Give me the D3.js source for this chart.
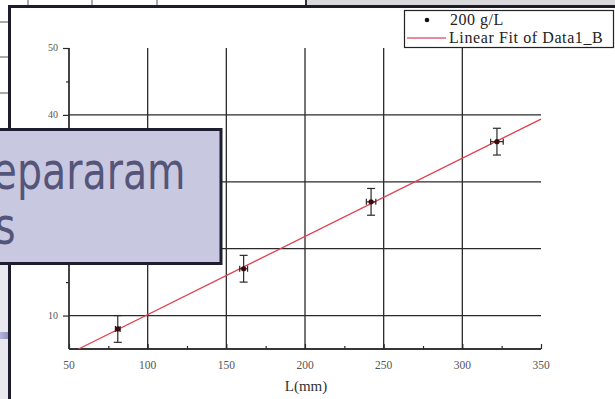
<!DOCTYPE html>
<html>
<head>
<meta charset="utf-8">
<script src="https://cdn.jsdelivr.net/npm/d3@7/dist/d3.min.js"></script>
<style>
  html, body { margin: 0; padding: 0; background: #ffffff; }
  svg { display: block; }
</style>
</head>
<body>
<script>
// Measured lengths (mm) and values for the 200 g/L series
const lengths = [81, 161, 242, 322];
const values = [8, 17, 27, 36];
const lengthErr = [1.5, 2.5, 3, 4];
const valueErr = [2, 2, 2, 2];

// Axis ticks
const xMajorTicks = [50, 100, 150, 200, 250, 300, 350];
const xMinorTicks = [75, 125, 175, 225, 275, 325];
const yMajorTicks = [10, 20, 30, 40, 50];
const yMinorTicks = [15, 25, 35, 45];
const xGridTicks = [100, 150, 200, 250, 300];
const yGridTicks = [10, 20, 30, 40];

// Legend and captions
const seriesName = "200 g/L";
const fitName = "Linear Fit of Data1_B";
const xTitle = "L(mm)";
const calloutLines = ["separaram", "s"];

const W = 615, H = 399;
const svg = d3.select("body").append("svg").attr("width", W).attr("height", H);

// ---- slide background behind the chart frame ----
svg.append("rect").attr("x", 0).attr("y", 0).attr("width", W).attr("height", H).attr("fill", "#ffffff");
// grey band to the upper right
svg.append("rect").attr("x", 306).attr("y", 0).attr("width", W - 306).attr("height", 6).attr("fill", "#d9d9dc");
// table cell borders showing above and left of the frame
[28, 92, 157].forEach(x => {
  svg.append("line").attr("x1", x).attr("x2", x).attr("y1", 0).attr("y2", 6)
    .attr("stroke", "#555").attr("stroke-width", 1);
});
svg.append("line").attr("x1", 306).attr("x2", 306).attr("y1", 0).attr("y2", 6)
  .attr("stroke", "#333").attr("stroke-width", 2);
[22, 57, 93].forEach(y => {
  svg.append("line").attr("x1", 0).attr("x2", 9).attr("y1", y).attr("y2", y)
    .attr("stroke", "#555").attr("stroke-width", 1);
});
// lower left strip
svg.append("rect").attr("x", 0).attr("y", 264).attr("width", 10).attr("height", H - 264).attr("fill", "#e8e8ee");
const barGrad = svg.append("defs").append("linearGradient").attr("id", "bar").attr("x1", 0).attr("x2", 1);
barGrad.append("stop").attr("offset", 0).attr("stop-color", "#b4b4d8");
barGrad.append("stop").attr("offset", 1).attr("stop-color", "#8a8ac0");
svg.append("rect").attr("x", 0).attr("y", 332).attr("width", 10).attr("height", 7).attr("fill", "url(#bar)");

// ---- chart frame ----
svg.append("rect").attr("x", 9.5).attr("y", 6.5).attr("width", W).attr("height", H)
  .attr("fill", "#ffffff").attr("stroke", "#1c1c2c").attr("stroke-width", 3);

// ---- scales ----
const x = d3.scaleLinear().domain([50, 350]).range([69, 541]);
const y = d3.scaleLinear().domain([5, 50]).range([349, 48]);

const g = svg.append("g");
const ink = "#2a2a2a";

// grid
g.selectAll(".vgrid").data(xGridTicks).join("line")
  .attr("x1", d => x(d)).attr("x2", d => x(d)).attr("y1", y(50)).attr("y2", y(5))
  .attr("stroke", ink).attr("stroke-width", 1.3);
g.selectAll(".hgrid").data(yGridTicks).join("line")
  .attr("x1", x(50)).attr("x2", x(350)).attr("y1", d => y(d)).attr("y2", d => y(d))
  .attr("stroke", ink).attr("stroke-width", 1.3);

// x axis (ticks pointing inward)
const xAxis = g.append("g").attr("transform", `translate(0,${y(5)})`)
  .call(d3.axisTop(x).tickValues(xMajorTicks).tickSize(5).tickFormat(""));
xAxis.append("g").call(d3.axisTop(x).tickValues(xMinorTicks).tickSize(3).tickFormat(""));
xAxis.selectAll(".domain").attr("stroke", ink).attr("stroke-width", 1.3);
xAxis.selectAll(".tick line").attr("stroke", ink).attr("stroke-width", 1.2);
xAxis.selectAll(".domain").attr("d", `M${x(50)},0H${x(350)}`);
g.selectAll(".xlab").data(xMajorTicks).join("text")
  .attr("x", d => x(d)).attr("y", 369).attr("text-anchor", "middle")
  .attr("font-family", "Liberation Serif").attr("font-size", 11.5).attr("fill", "#555")
  .text(d => d);

// y axis (ticks pointing outward)
const yAxis = g.append("g").attr("transform", `translate(${x(50)},0)`)
  .call(d3.axisLeft(y).tickValues(yMajorTicks).tickSize(6).tickFormat(""));
yAxis.append("g").call(d3.axisLeft(y).tickValues(yMinorTicks).tickSize(3).tickFormat(""));
yAxis.selectAll(".domain").attr("d", `M0,${y(50)}V${y(5)}`).attr("stroke", ink).attr("stroke-width", 1.3);
yAxis.selectAll(".tick line").attr("stroke", ink).attr("stroke-width", 1.2);
g.selectAll(".ylab").data(yMajorTicks).join("text")
  .attr("x", 58).attr("y", d => y(d) + 3).attr("text-anchor", "end")
  .attr("font-family", "Liberation Serif").attr("font-size", 10).attr("fill", "#555")
  .text(d => d);

// axis title
g.append("text").attr("x", 306).attr("y", 391).attr("text-anchor", "middle")
  .attr("font-family", "Liberation Serif").attr("font-size", 15).attr("fill", "#333")
  .text(xTitle);

// ---- least-squares fit of the measurements ----
const mx = d3.mean(lengths), my = d3.mean(values);
const slope = d3.sum(lengths, (v, i) => (v - mx) * (values[i] - my)) / d3.sum(lengths, v => (v - mx) ** 2);
const intercept = my - slope * mx;
const xStart = (5 - intercept) / slope;
g.append("line")
  .attr("x1", x(xStart)).attr("y1", y(5))
  .attr("x2", x(350)).attr("y2", y(intercept + slope * 350))
  .attr("stroke", "#e0404e").attr("stroke-width", 1.3);

// ---- points with error bars ----
const pts = lengths.map((v, i) => ({ x: v, y: values[i], ex: lengthErr[i], ey: valueErr[i] }));
const pg = g.selectAll(".pt").data(pts).join("g");
pg.append("line").attr("x1", d => x(d.x)).attr("x2", d => x(d.x))
  .attr("y1", d => y(d.y - d.ey)).attr("y2", d => y(d.y + d.ey)).attr("stroke", ink).attr("stroke-width", 1.2);
pg.append("line").attr("x1", d => x(d.x) - 4).attr("x2", d => x(d.x) + 4)
  .attr("y1", d => y(d.y + d.ey)).attr("y2", d => y(d.y + d.ey)).attr("stroke", ink).attr("stroke-width", 1.2);
pg.append("line").attr("x1", d => x(d.x) - 4).attr("x2", d => x(d.x) + 4)
  .attr("y1", d => y(d.y - d.ey)).attr("y2", d => y(d.y - d.ey)).attr("stroke", ink).attr("stroke-width", 1.2);
pg.append("line").attr("x1", d => x(d.x - d.ex)).attr("x2", d => x(d.x + d.ex))
  .attr("y1", d => y(d.y)).attr("y2", d => y(d.y)).attr("stroke", ink).attr("stroke-width", 1.2);
pg.append("line").attr("x1", d => x(d.x - d.ex)).attr("x2", d => x(d.x - d.ex))
  .attr("y1", d => y(d.y) - 3).attr("y2", d => y(d.y) + 3).attr("stroke", ink).attr("stroke-width", 1.2);
pg.append("line").attr("x1", d => x(d.x + d.ex)).attr("x2", d => x(d.x + d.ex))
  .attr("y1", d => y(d.y) - 3).attr("y2", d => y(d.y) + 3).attr("stroke", ink).attr("stroke-width", 1.2);
pg.append("circle").attr("cx", d => x(d.x)).attr("cy", d => y(d.y)).attr("r", 2.6).attr("fill", "#3a0a0a");

// ---- legend ----
const lg = svg.append("g");
lg.append("rect").attr("x", 404.5).attr("y", 10.5).attr("width", 209).attr("height", 37)
  .attr("fill", "#ffffff").attr("stroke", "#222").attr("stroke-width", 1.2);
lg.append("circle").attr("cx", 427).attr("cy", 20).attr("r", 2.3).attr("fill", "#111");
lg.append("text").attr("x", 450).attr("y", 25).attr("font-family", "Liberation Serif")
  .attr("font-size", 16).attr("letter-spacing", 0.5).attr("fill", "#222").text(seriesName);
lg.append("line").attr("x1", 407).attr("x2", 446).attr("y1", 38).attr("y2", 38)
  .attr("stroke", "#e0607a").attr("stroke-width", 1.5);
lg.append("text").attr("x", 449).attr("y", 43).attr("font-family", "Liberation Serif")
  .attr("font-size", 16).attr("letter-spacing", 0.6).attr("fill", "#222").text(fitName);

// ---- overlapping callout box ----
svg.append("rect").attr("x", -20).attr("y", 129.5).attr("width", 241).attr("height", 134)
  .attr("fill", "#c8c8e0").attr("stroke", "#1e1e30").attr("stroke-width", 3);
const ct = svg.append("g").attr("font-family", "DejaVu Sans").attr("font-size", 52).attr("fill", "#55557a");
ct.append("text").attr("transform", "translate(-28,189) scale(0.76,1)").text(calloutLines[0]);
ct.append("text").attr("transform", "translate(-5,244) scale(0.76,1)").text(calloutLines[1]);
</script>
</body>
</html>
